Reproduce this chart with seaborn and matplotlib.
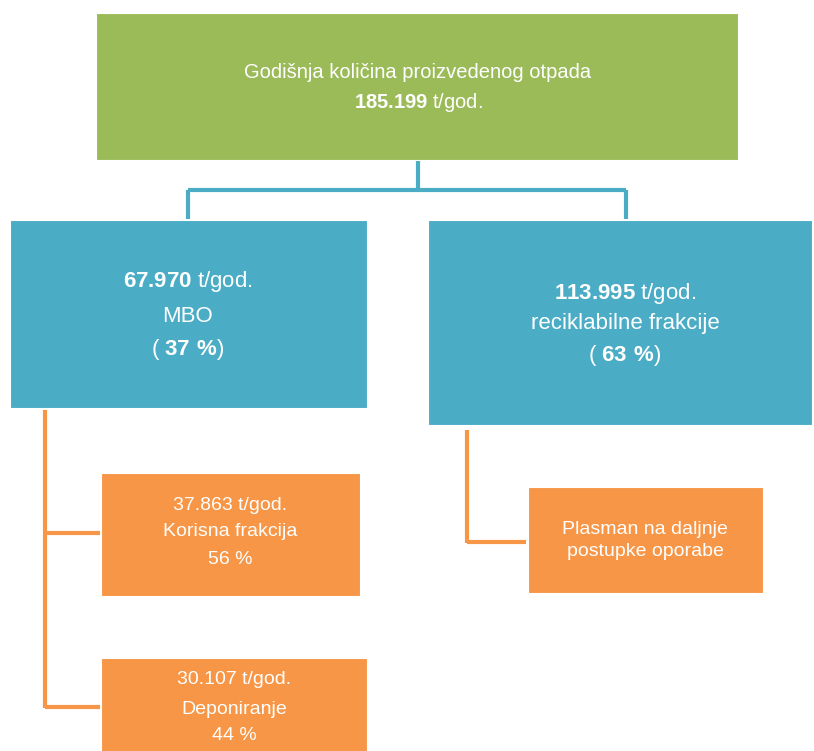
import matplotlib
matplotlib.use("Agg")
import seaborn as sns
from matplotlib import pyplot as plt
from matplotlib.patches import Rectangle

# data
total_amount = 185199
branch_names = ["MBO", "reciklabilne frakcije"]
branch_amounts = [67970, 113995]
branch_pct = [37, 63]
mbo_names = ["Korisna frakcija", "Deponiranje"]
mbo_amounts = [37863, 30107]
mbo_pct = [56, 44]
recycle_text = ["Plasman na daljnje", "postupke oporabe"]
top_title = "Godišnja količina proizvedenog otpada"

green = "#9BBB59"
blue = "#4BACC6"
orange = "#F79646"

sns.set_theme(style="white")
plt.rcParams["font.family"] = ["Liberation Sans", "DejaVu Sans"]
plt.rcParams["mathtext.fontset"] = "custom"
plt.rcParams["mathtext.rm"] = "Liberation Sans"
plt.rcParams["mathtext.bf"] = "Liberation Sans:bold"


def fmt(v):
    return f"{v:,}".replace(",", ".")


fig = plt.figure(figsize=(8.14, 7.51), dpi=100)
ax = fig.add_axes([0, 0, 1, 1])
ax.set_xlim(0, 814)
ax.set_ylim(751, 0)
ax.axis("off")


def box(x0, y0, x1, y1, color):
    ax.add_patch(Rectangle((x0, y0), x1 - x0, y1 - y0, facecolor=color,
                           edgecolor="white", linewidth=0.8, zorder=2))


def line(xs, ys, color):
    ax.plot(xs, ys, color=color, linewidth=3, solid_capstyle="butt",
            solid_joinstyle="miter", zorder=1)


def label(x, y, s, size, **kw):
    ax.text(x, y, s, color="white", fontsize=size, ha="center", va="center",
            zorder=3, **kw)


# top box
box(96, 13, 738, 160, green)
label(418, 72, top_title, 14.5)
label(418, 102, r"$\mathbf{" + fmt(total_amount) + r"}$ t/god.", 14.5)

# blue connectors
line([418, 418], [160, 190], blue)
line([188, 626], [190, 190], blue)
line([188, 188], [190, 219], blue)
line([626, 626], [190, 219], blue)

# branch boxes
box(10, 220, 367, 408, blue)
box(428, 220, 812, 425, blue)
branch_cx = [188, 625]
branch_y = [[282, 316, 349], [293, 324, 356]]
for cx, ys, name, amt, pct in zip(branch_cx, branch_y, branch_names,
                                  branch_amounts, branch_pct):
    label(cx, ys[0], r"$\mathbf{" + fmt(amt) + r"}$ t/god.", 16)
    label(cx, ys[1], name, 16)
    label(cx, ys[2], r"( $\mathbf{" + str(pct) + r"\ \%}$)", 16)

# orange connectors
line([45, 45], [410, 708], orange)
line([45, 100], [533, 533], orange)
line([45, 100], [707, 707], orange)
line([467, 467], [430, 543], orange)
line([467, 526], [542, 542], orange)

# MBO sub boxes
sub_boxes = [(101, 473, 360, 596), (101, 658, 367, 760)]
sub_y = [[505, 532, 560], [680, 709, 736]]
for (x0, y0, x1, y1), ys, name, amt, pct in zip(sub_boxes, sub_y, mbo_names,
                                                mbo_amounts, mbo_pct):
    box(x0, y0, x1, y1, orange)
    cx = (x0 + x1) / 2
    label(cx, ys[0], f"{fmt(amt)} t/god.", 14)
    label(cx, ys[1], name, 14)
    label(cx, ys[2], f"{pct} %", 14)

# recycling sub box
box(528, 487, 763, 593, orange)
for y, s in zip([530, 552], recycle_text):
    label(645, y, s, 14)

fig.savefig("out.png", dpi=100)
